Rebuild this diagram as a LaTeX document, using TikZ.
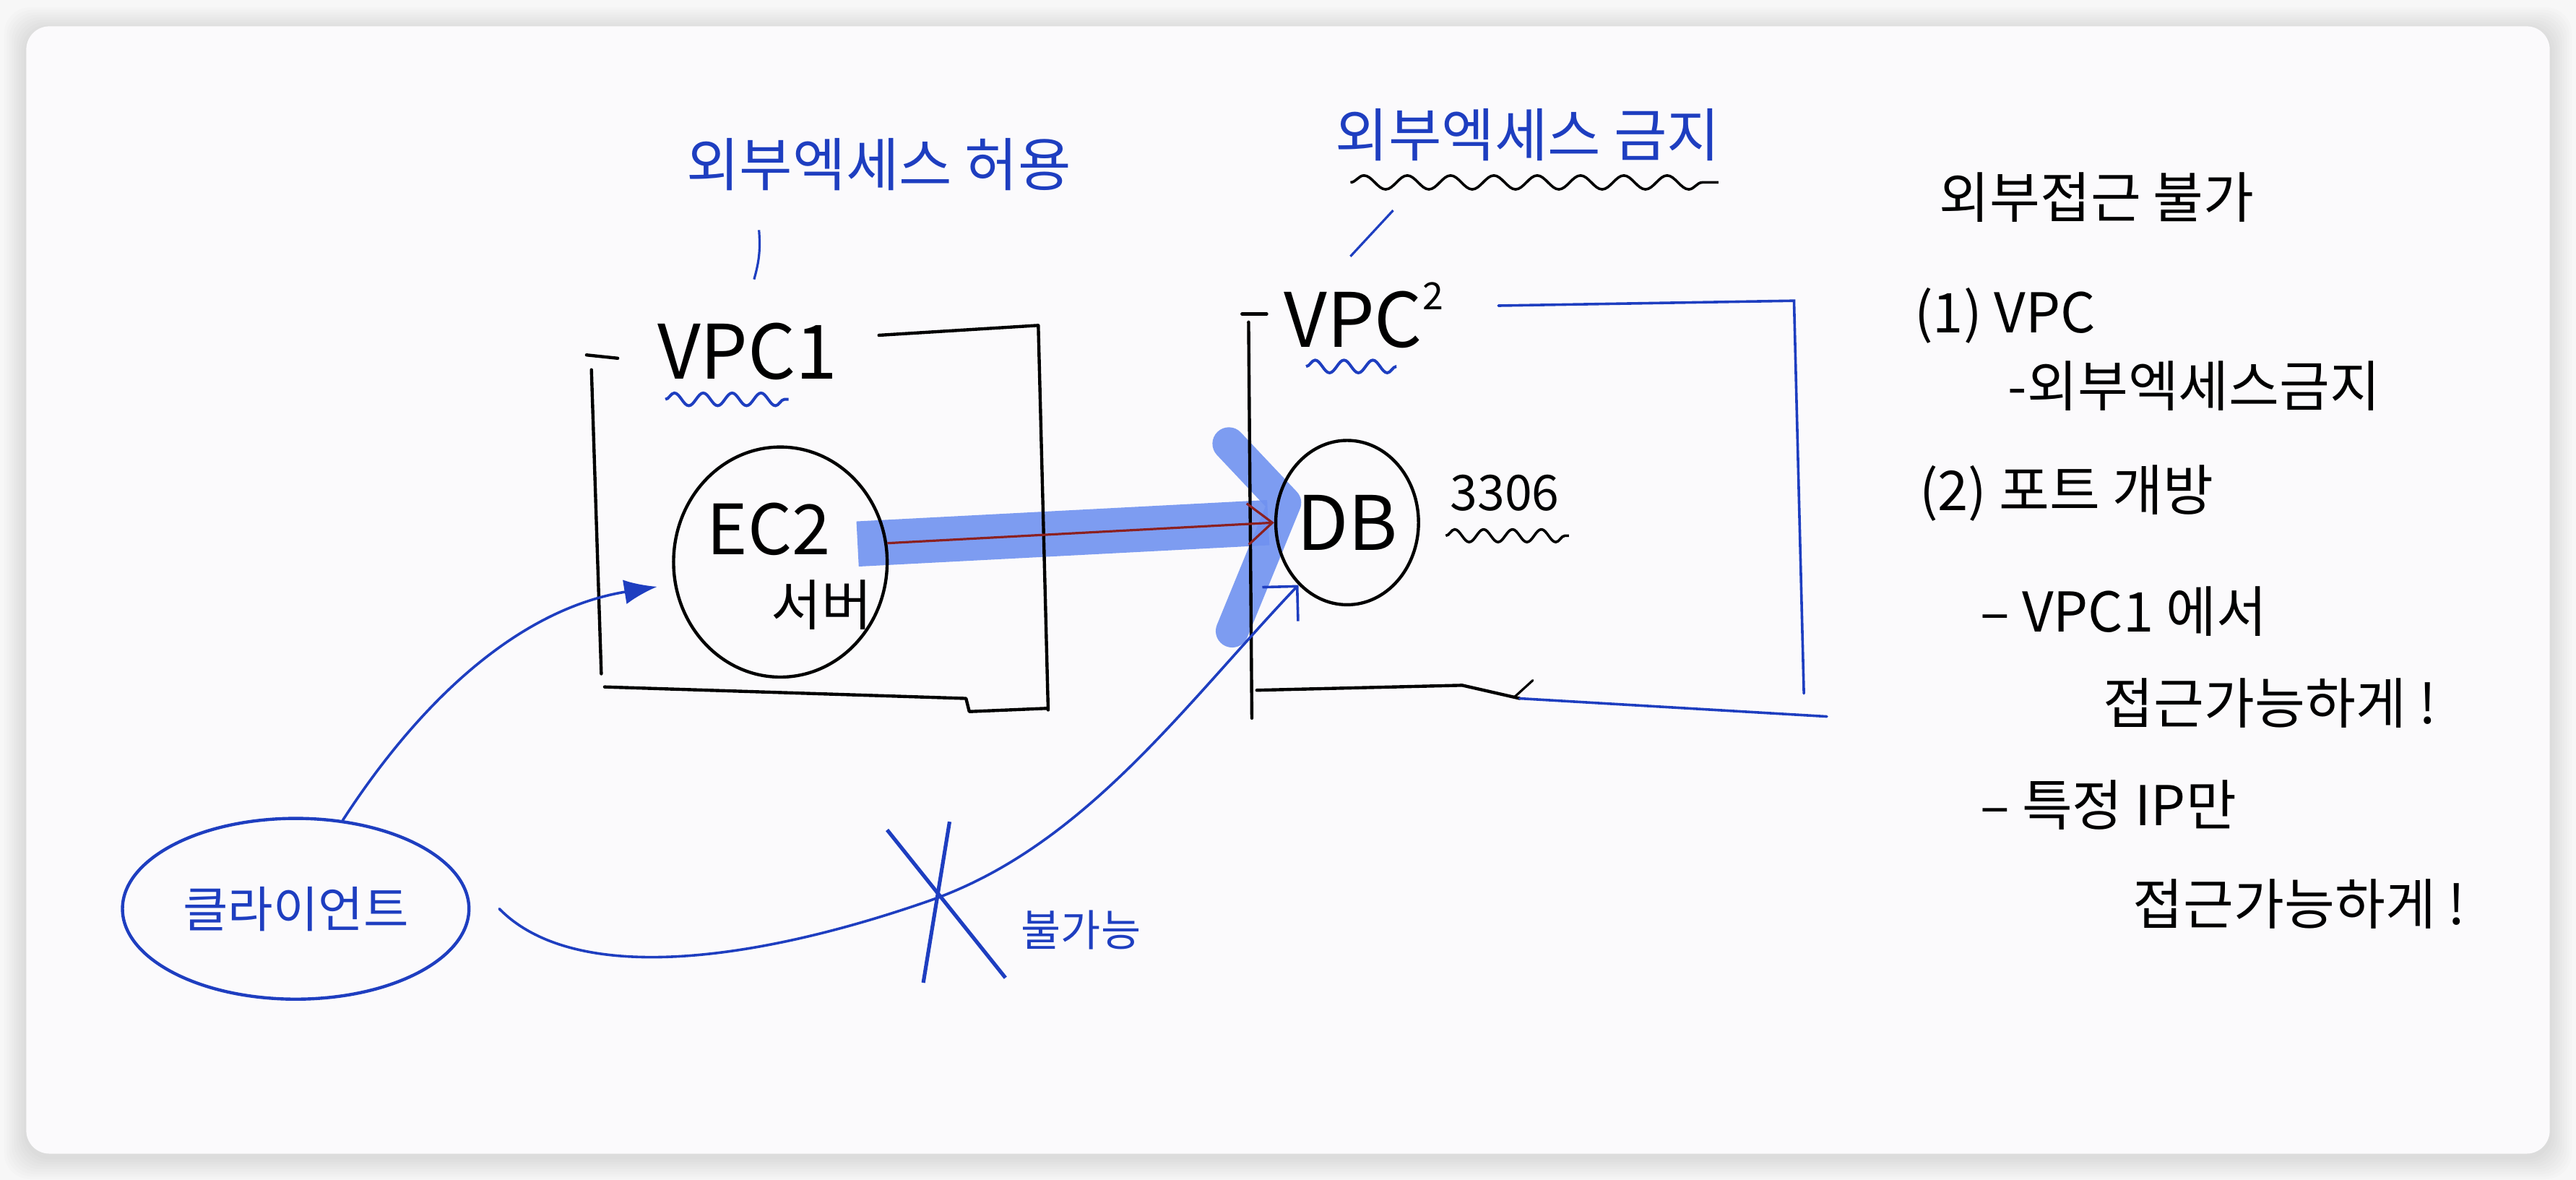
\documentclass[tikz,border=0pt]{standalone}
\usepackage{fontspec}
\setmainfont{Noto Sans CJK KR}
\usetikzlibrary{shapes.geometric,arrows.meta,decorations.pathmorphing,calc,positioning}

\definecolor{ink}{RGB}{30,62,192}
\definecolor{marker}{RGB}{112,146,240}
\definecolor{redpen}{RGB}{140,32,32}
\definecolor{paper}{RGB}{251,250,252}
\definecolor{desk}{RGB}{247,247,247}

\tikzset{
  pen/.style={draw=black, line width=1.1pt, line cap=round, line join=round},
  inkline/.style={draw=ink, line width=0.9pt, line cap=round},
  wave/.style={decorate, decoration={snake, segment length=10pt, amplitude=2.2pt}},
  bigwave/.style={decorate, decoration={snake, segment length=15pt, amplitude=2.4pt}},
  bubble/.style={ellipse, draw=black, line width=1.1pt, inner sep=0pt},
  inknote/.style={text=ink, font=\fontsize{20}{24}\selectfont, inner sep=0pt},
  note/.style={font=\fontsize{19}{22}\selectfont, anchor=west, inner sep=0pt},
}

\begin{document}
\begin{tikzpicture}[x=0.2mm, y=-0.2mm]
\useasboundingbox (0,0) rectangle (1568,718);

% fundo e sombra do cartao
\fill[desk] (0,0) rectangle (1568,718);
\foreach \k in {1,...,9} {
  \pgfmathsetmacro{\d}{\k*1.5}
  \fill[black, opacity=0.013, rounded corners=9pt]
    (16-\d,16-\d+2) rectangle (1552+\d,702+\d+2);
}
\fill[paper, rounded corners=8pt] (16,16) rectangle (1552,702);

% marcador azul (EC2 -> DB)
\draw[marker, line width=5.5mm, opacity=0.9] (522,331) -- (772,318);
\draw[marker, line width=4mm, opacity=0.9, line join=round, line cap=round]
  (748,270) -- (782,306) -- (750,384);

% VPC1
\draw[pen] (357,216) -- (376,218);
\draw[pen] (360,225) -- (366,410);
\draw[pen] (535,204) -- (632,198) -- (638,432);
\draw[pen] (368,418) -- (588,425) -- (590,433) -- (638,431);
\node[font=\fontsize{26}{30}\selectfont, inner sep=0pt] (vpc1) at (455,214) {VPC1};
\draw[ink, line width=1pt, wave] (405,243) -- (480,243);

% VPC2
\draw[pen] (756,191) -- (771,191);
\draw[pen] (760,196) -- (762,437);
\draw[pen] (765,420) -- (890,417) -- (925,425);
\draw[pen, line width=0.8pt] (922,424) -- (933,414);
\draw[inkline] (912,186) -- (1092,183) -- (1098,422);
\draw[inkline] (925,425) -- (1112,436);
\node[font=\fontsize{26}{30}\selectfont, inner sep=0pt] (vpc2) at (830,192)
  {VPC\raisebox{0.5em}{\fontsize{13}{15}\selectfont 2}};
\draw[ink, line width=1pt, wave] (795,223) -- (850,223);

% EC2 e DB
\node[bubble, minimum width=26mm, minimum height=28mm] (ec2) at (475,342) {};
\node[font=\fontsize{24}{28}\selectfont, inner sep=0pt] (ec2name) at (468,322) {EC2};
\node[font=\fontsize{19}{22}\selectfont, inner sep=0pt] (ec2sub) at (500,368) {서버};
\node[bubble, minimum width=17mm, minimum height=20mm,
      font=\fontsize{26}{30}\selectfont] (db) at (820,318) {DB};
\node[font=\fontsize{17}{20}\selectfont, inner sep=0pt] (port) at (916,300) {3306};
\draw[black, line width=0.9pt, wave] (880,326) -- (955,326);
\draw[redpen, line width=0.8pt, -{Straight Barb[length=3mm, width=5mm]}] (ec2.10) -- (db.west);

% rotulos de cima
\node[inknote] (allow) at (535,100) {외부엑세스 허용};
\draw[ink, line width=0.8pt] (462,140) to[bend left=10] (459,170);
\node[inknote] (deny) at (930,82) {외부엑세스 금지};
\draw[black, line width=0.9pt, bigwave] (822,111) -- (1046,111);
\draw[ink, line width=0.8pt] (848,128) -- (822,156);

% cliente
\node[ellipse, draw=ink, line width=1.1pt, minimum width=32mm, minimum height=22mm,
      text=ink, font=\fontsize{17}{20}\selectfont] (client) at (180,553) {클라이언트};
\coordinate (vpc1in) at (400,357);
\draw[inkline, -{Latex[length=4mm, width=3mm]}] (client.62)
  .. controls (260,420) and (320,370) .. (vpc1in);
\coordinate (cross) at (566,548);
\draw[inkline, -{Straight Barb[length=3mm]}] ([xshift=3.5mm]client.east)
  .. controls (350,600) and (460,585) .. (cross)
  .. controls (660,515) and (720,430) .. (db.232);
\draw[ink, line width=1.3pt] ($(cross)+(-26,-43)$) -- ($(cross)+(46,47)$);
\draw[ink, line width=1.3pt] ($(cross)+(12,-48)$) -- ($(cross)+(-4,50)$);
\node[inknote, font=\fontsize{15}{18}\selectfont] (fail) at (658,566) {불가능};

% notas da direita
\node[note] (n0) at (1180,120) {외부접근 불가};
\node[note, font=\fontsize{19}{22}\selectfont] (n1) at (1165,192) {(1) VPC};
\node[note] (n2) at (1222,235) {-외부엑세스금지};
\node[note] (n3) at (1168,300) {(2) 포트 개방};
\node[note] (n4) at (1205,372) {– VPC1 에서};
\node[note] (n5) at (1280,428) {접근가능하게 !};
\node[note] (n6) at (1205,490) {– 특정 IP만};
\node[note] (n7) at (1298,550) {접근가능하게 !};

\end{tikzpicture}
\end{document}
